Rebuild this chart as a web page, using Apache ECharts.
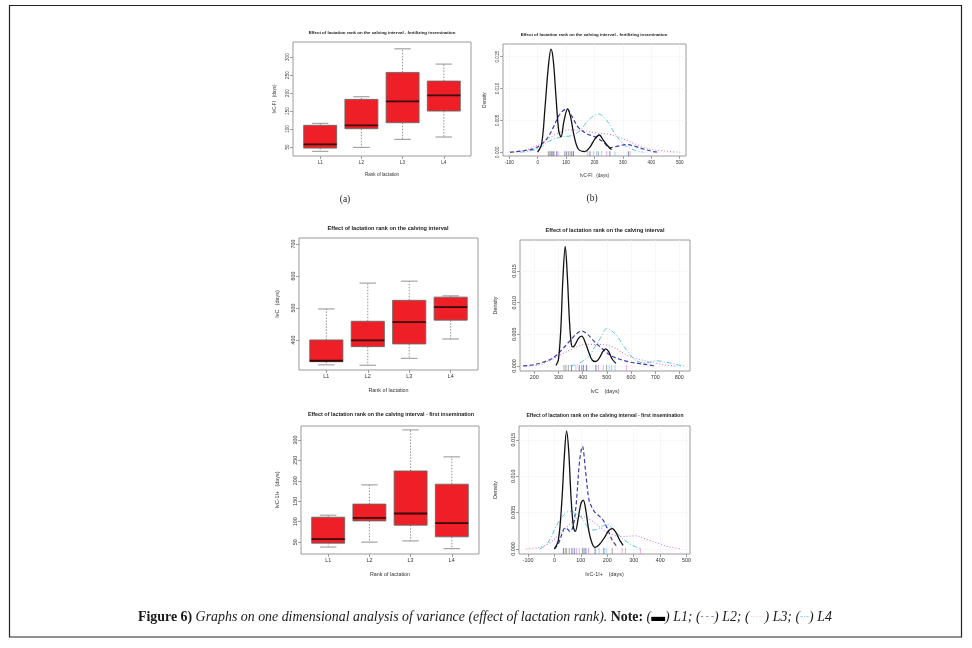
<!DOCTYPE html>
<html><head><meta charset="utf-8">
<script src="https://cdn.jsdelivr.net/npm/echarts@6/dist/echarts.min.js"></script>
<style>html,body{margin:0;padding:0;background:#fff}#c{width:972px;height:648px}</style>
</head><body><div id="c"></div>
<script>
// ---------- data ----------
const categories = ['L1', 'L2', 'L3', 'L4'];
// boxplot statistics per rank: [lower whisker, Q1, median, Q3, upper whisker]
const fiBox = [[38, 47, 57.4, 110.3, 115.8], [49, 100.9, 110.3, 182.5, 189.8], [71.3, 117.6, 176.9, 257.4, 323], [77.8, 150, 193.6, 233.3, 280.6]];
const fiOutliers = [[1, 218.6], [2, 330.5]];
const ciBox = [[322, 332, 335, 400, 497], [321, 379, 399, 458.5, 578], [342.5, 387.5, 456, 524, 584], [403, 462, 502.5, 534, 538]];
const ciOutliers = [[4, 702]];
const c1Box = [[38, 47.5, 57.3, 111, 116], [50, 102, 109.4, 143, 190], [53, 91.5, 120, 224, 324.5], [34, 63, 96.4, 191.7, 258.5]];
const c1Outliers = [[1, 220]];

// tick labels
const fiBoxTicks = [50, 100, 150, 200, 250, 300];
const ciBoxTicks = [400, 500, 600, 700];
const c1BoxTicks = [50, 100, 150, 200, 250, 300];
const fiDensXTicks = [-100, 0, 100, 200, 300, 400, 500];
const ciDensXTicks = [200, 300, 400, 500, 600, 700, 800];
const c1DensXTicks = [-100, 0, 100, 200, 300, 400, 500];
const densYTicks = [0, 0.005, 0.010, 0.015];

// density curves [days, density]  -- IvC-FI
const fiL1 = [[0,0],[14,0.0013],[26,0.0071],[37.5,0.0134],[47,0.0162],[55,0.0144],[64.5,0.0087],[74,0.0034],[82,0.0024],[93,0.005],[105.5,0.0068],[116,0.0055],[128,0.0026],[143,0.0005],[166,0.0001],[184,0.0008],[201.6,0.0021],[217,0.0027],[231,0.0019],[248.5,0.0009],[260,0.0004]];
const fiL2 = [[-97,0],[-39,0.0003],[0,0.0008],[32,0.0021],[55,0.0039],[78.5,0.006],[102,0.0068],[119.5,0.0057],[143,0.0039],[172,0.0029],[201.6,0.0024],[231,0.0016],[254,0.0007],[278,0.0009],[313,0.0012],[336,0.001],[372,0.0005],[407,0.0001],[430,0]];
const fiL3 = [[-97,0],[-39,0.0004],[20,0.0016],[67,0.0029],[114,0.0035],[160,0.0034],[207,0.003],[254,0.0028],[301,0.0021],[348,0.0012],[395,0.0005],[454,0.00015],[500,0]];
const fiL4 = [[-62,0],[0,0.0005],[43,0.0018],[84,0.0024],[119.5,0.0026],[149,0.0034],[178,0.005],[213,0.006],[243,0.005],[272,0.0029],[301,0.0013],[336,0.0004],[372,0]];
// IvC
const ciL1 = [[290,0.0001],[300,0.001],[310,0.006],[318,0.0135],[328,0.0189],[337,0.014],[345,0.0075],[352,0.0038],[358,0.003],[368,0.0033],[382,0.0043],[396,0.0047],[410,0.0038],[425,0.0022],[440,0.0009],[455,0.0007],[470,0.0013],[484,0.0023],[495,0.0027],[507,0.0023],[522,0.0011],[538,0.0004]];
const ciL2 = [[154,0],[200,0.0002],[237,0.0006],[270,0.0011],[292,0.0017],[320,0.0028],[348,0.004],[375,0.0051],[396,0.0055],[420,0.005],[440,0.0042],[458,0.0035],[485,0.0026],[513,0.0017],[550,0.0011],[596,0.0006],[630,0.0004],[665,0.0002],[700,0]];
const ciL3 = [[168,0],[223,0.0002],[260,0.0008],[292,0.0014],[320,0.002],[348,0.0025],[380,0.0031],[420,0.0034],[470,0.0034],[510,0.0032],[540,0.0027],[568,0.002],[600,0.0014],[637,0.001],[670,0.0007],[706,0.0004],[750,0.0001],[789,0]];
const ciL4 = [[348,0],[380,0.0003],[410,0.001],[430,0.0017],[450,0.003],[472,0.0043],[490,0.0056],[499,0.0059],[515,0.0057],[541,0.0048],[560,0.0037],[582,0.0025],[610,0.0012],[637,0.0006],[665,0.0005],[690,0.0007],[706,0.0008],[730,0.0007],[770,0.0004],[800,0.0001],[823,0]];
// IvC-1I
const c1L1 = [[0,0],[15,0.0012],[28,0.0065],[38,0.013],[46,0.0162],[54,0.0135],[63,0.007],[72,0.003],[79,0.0024],[90,0.0042],[100,0.0062],[109,0.0067],[118,0.0055],[130,0.0025],[142,0.0008],[154,0.0002],[170,0.0006],[190,0.0016],[205,0.0025],[219,0.0028],[232,0.0023],[247,0.0012],[260,0.0005]];
const c1L2 = [[0,0],[15,0.0007],[30,0.0022],[40,0.0029],[50,0.0027],[58,0.0024],[70,0.003],[82,0.006],[95,0.012],[106,0.0141],[117,0.011],[131,0.0067],[145,0.0055],[156,0.0049],[170,0.0045],[187,0.0038],[200,0.0028],[219,0.0012],[237,0.0003]];
const c1L3 = [[-106,0],[-60,0.0002],[-19,0.0008],[31,0.0024],[69,0.0038],[100,0.0045],[144,0.0038],[194,0.0024],[225,0.0019],[256,0.0017],[306,0.0018],[356,0.0012],[400,0.0007],[431,0.0003],[481,0]];
const c1L4 = [[-56,0],[-30,0.0006],[-12,0.0017],[5,0.003],[25,0.0042],[45,0.005],[62,0.0052],[80,0.0049],[100,0.0044],[115,0.0036],[131,0.0028],[150,0.0026],[169,0.0028],[185,0.0032],[200,0.0034],[215,0.003],[231,0.0024],[255,0.0015],[281,0.0008],[306,0.0003],[331,0]];

// rug observations (days)
const fiRug = [[37.5,41,46,49,53,102,108,114,213],[57,67,96,120,126,184,254,319],[72,176,243,325],[196,207.5,225,272]];
const ciRug = [[323,331,341,396,499],[354,386,403,416.5,455],[372,465,520,582],[485.5,510,534]];
const c1Rug = [[41,46,56,106,219],[34,66,75,112,119,154,187],[84,129,256,269,325],[94,169,196]];

// ---------- styles ----------
const FONT = '"Liberation Sans", Arial, sans-serif';
const SERIF = '"Liberation Serif", "DejaVu Serif", serif';
const groupColors = ['#111111', '#3b3bb0', '#d67fcf', '#5cc6e6'];
const groupDash = ['solid', [4, 2.5], [1, 2], [5, 2, 1, 2]];
const groupWidth = [1.3, 1.2, 1.1, 1.0];

const chart = echarts.init(document.getElementById('c'), null, { renderer: 'canvas' });

const grids = [
  { left: 293, top: 42, width: 178, height: 114 },
  { left: 503, top: 44, width: 183, height: 112 },
  { left: 299, top: 238, width: 179, height: 132 },
  { left: 520, top: 240, width: 170, height: 131 },
  { left: 301, top: 426, width: 178, height: 128 },
  { left: 519, top: 426, width: 171, height: 128 }
].map(g => Object.assign({ show: true, borderColor: '#9a9a9a', borderWidth: 1, backgroundColor: 'transparent' }, g));

function xAxisCfg(gi, min, max, ticks, fmt, name, fs, nameGap) {
  return {
    gridIndex: gi, type: 'value', min: min, max: max,
    axisLine: { show: false, onZero: false },
    axisTick: { show: true, length: 3, customValues: ticks, lineStyle: { color: '#888', width: 0.8 } },
    axisLabel: { customValues: ticks, formatter: fmt, fontSize: fs, color: '#333', margin: 4, fontFamily: FONT },
    splitLine: { show: false },
    name: name, nameLocation: 'middle', nameGap: nameGap,
    nameTextStyle: { fontSize: fs, color: '#333', fontFamily: FONT }
  };
}
function yAxisCfg(gi, min, max, ticks, fmt, name, fs, nameGap) {
  return {
    gridIndex: gi, type: 'value', min: min, max: max,
    axisLine: { show: false, onZero: false },
    axisTick: { show: true, length: 3, customValues: ticks, lineStyle: { color: '#888', width: 0.8 } },
    axisLabel: { customValues: ticks, formatter: fmt, fontSize: fs, color: '#333', margin: 3, rotate: 90, fontFamily: FONT },
    splitLine: { show: false },
    name: name, nameLocation: 'middle', nameGap: nameGap, nameRotate: 90,
    nameTextStyle: { fontSize: fs, color: '#333', fontFamily: FONT }
  };
}
const catFmt = v => categories[Math.round(v) - 1] || '';
const numFmt = v => String(v);
const densFmt = v => v.toFixed(3);

const xAxes = [
  xAxisCfg(0, 0.34, 4.66, [1, 2, 3, 4], catFmt, 'Rank of lactation', 4.6, 16),
  xAxisCfg(1, -122, 522, fiDensXTicks, numFmt, 'IvC-FI   (days)', 4.6, 17),
  xAxisCfg(2, 0.34, 4.66, [1, 2, 3, 4], catFmt, 'Rank of lactation', 5.4, 18),
  xAxisCfg(3, 141, 844, ciDensXTicks, numFmt, 'IvC    (days)', 5.4, 18),
  xAxisCfg(4, 0.34, 4.66, [1, 2, 3, 4], catFmt, 'Rank of lactation', 5.4, 18),
  xAxisCfg(5, -134, 513, c1DensXTicks, numFmt, 'IvC-1I+    (days)', 5.4, 18)
];
const yAxes = [
  yAxisCfg(0, 25, 342, fiBoxTicks, numFmt, 'IvC-FI   (days)', 4.6, 16),
  yAxisCfg(1, -0.0006, 0.017, densYTicks, densFmt, 'Density', 4.6, 16),
  yAxisCfg(2, 306, 719, ciBoxTicks, numFmt, 'IvC   (days)', 5.4, 19),
  yAxisCfg(3, -0.0008, 0.0199, densYTicks, densFmt, 'Density', 5.4, 22),
  yAxisCfg(4, 21, 334, c1BoxTicks, numFmt, 'IvC-1I+   (days)', 5.4, 21),
  yAxisCfg(5, -0.0007, 0.0169, densYTicks, densFmt, 'Density', 5.4, 21)
];
// faint grid lines on density panels
[1, 3, 5].forEach(i => {
  xAxes[i].splitLine = { show: true, lineStyle: { color: '#ececec', type: 'dotted', width: 0.8 } };
  yAxes[i].splitLine = { show: true, lineStyle: { color: '#ececec', type: 'dotted', width: 0.8 } };
});

function renderBox(params, api) {
  const x = api.value(0);
  const lo = api.coord([x, api.value(1)]);
  const q1 = api.coord([x, api.value(2)]);
  const md = api.coord([x, api.value(3)]);
  const q3 = api.coord([x, api.value(4)]);
  const hi = api.coord([x, api.value(5)]);
  const half = api.size([0.4, 0])[0];
  const cap = api.size([0.2, 0])[0];
  const wl = { stroke: '#777', lineWidth: 0.8, lineDash: [1.5, 1.5] };
  const cl = { stroke: '#777', lineWidth: 0.8 };
  return {
    type: 'group', children: [
      { type: 'line', shape: { x1: q3[0], y1: q3[1], x2: hi[0], y2: hi[1] }, style: wl },
      { type: 'line', shape: { x1: q1[0], y1: q1[1], x2: lo[0], y2: lo[1] }, style: wl },
      { type: 'line', shape: { x1: hi[0] - cap, y1: hi[1], x2: hi[0] + cap, y2: hi[1] }, style: cl },
      { type: 'line', shape: { x1: lo[0] - cap, y1: lo[1], x2: lo[0] + cap, y2: lo[1] }, style: cl },
      { type: 'rect', shape: { x: q3[0] - half, y: q3[1], width: half * 2, height: q1[1] - q3[1] }, style: { fill: '#ee1f26', stroke: '#6a6a6a', lineWidth: 0.9 } },
      { type: 'line', shape: { x1: md[0] - half, y1: md[1], x2: md[0] + half, y2: md[1] }, style: { stroke: '#3a0505', lineWidth: 1.8 } }
    ]
  };
}
function renderRug(color) {
  return function (params, api) {
    const p = api.coord([api.value(0), 0]);
    const bottom = params.coordSys.y + params.coordSys.height;
    return { type: 'line', shape: { x1: p[0], y1: p[1] - 1, x2: p[0], y2: bottom }, style: { stroke: color, lineWidth: 0.8, opacity: 0.8 } };
  };
}

const series = [];
function addBoxPanel(gi, stats, outliers) {
  series.push({
    type: 'custom', xAxisIndex: gi, yAxisIndex: gi, renderItem: renderBox,
    data: stats.map((s, i) => [i + 1].concat(s)), encode: { x: 0, y: [1, 2, 3, 4, 5] }, silent: true
  });
  series.push({
    type: 'scatter', xAxisIndex: gi, yAxisIndex: gi, data: outliers, symbol: 'emptyCircle', symbolSize: 2.6,
    itemStyle: { color: '#fff', borderColor: '#666', borderWidth: 0.6 }, silent: true
  });
}
function addDensityPanel(gi, curves, rugs) {
  curves.forEach((c, k) => {
    series.push({
      type: 'line', xAxisIndex: gi, yAxisIndex: gi, data: c, showSymbol: false, smooth: 0.35,
      lineStyle: { color: groupColors[k], width: groupWidth[k], type: groupDash[k] }, silent: true, z: 5 - k
    });
  });
  rugs.forEach((r, k) => {
    series.push({
      type: 'custom', xAxisIndex: gi, yAxisIndex: gi, renderItem: renderRug(groupColors[k] === '#111111' ? '#777' : groupColors[k]),
      data: r.map(v => [v, 0]), silent: true
    });
  });
}
addBoxPanel(0, fiBox, fiOutliers);
addDensityPanel(1, [fiL1, fiL2, fiL3, fiL4], fiRug);
addBoxPanel(2, ciBox, ciOutliers);
addDensityPanel(3, [ciL1, ciL2, ciL3, ciL4], ciRug);
addBoxPanel(4, c1Box, c1Outliers);
addDensityPanel(5, [c1L1, c1L2, c1L3, c1L4], c1Rug);

function txt(x, y, text, size, weight, family, align) {
  return {
    type: 'text', x: x, y: y, silent: true,
    style: { text: text, fontSize: size, fontWeight: weight || 'normal', fontFamily: family || FONT, fill: '#1a1a1a',
      align: align || 'center', verticalAlign: 'middle', textAlign: align || 'center', textVerticalAlign: 'middle' }
  };
}
const CAP = 13.9;
const graphics = [
  { type: 'rect', silent: true, shape: { x: 9.5, y: 5.5, width: 952, height: 631.5 }, style: { fill: 'none', stroke: '#222', lineWidth: 1.2 } },
  txt(382, 33, 'Effect of lactation rank on the calving interval - fertilizing insemination', 4.4, 'bold'),
  txt(594, 35, 'Effect of lactation rank on the calving interval - fertilizing insemination', 4.4, 'bold'),
  txt(388, 228, 'Effect of lactation rank on the calving interval', 5.6, 'bold'),
  txt(605, 230, 'Effect of lactation rank on the calving interval', 5.5, 'bold'),
  txt(391, 415, 'Effect of lactation rank on the calving interval - first insemination', 5.4, 'bold'),
  txt(605, 415.5, 'Effect of lactation rank on the calving interval - first insemination', 5.1, 'bold'),
  txt(345, 199, '(a)', 9.5, 'normal', SERIF),
  txt(592, 198, '(b)', 9.5, 'normal', SERIF),
  {
    type: 'text', x: 138, y: 617, silent: true,
    style: {
      text: '{b|Figure 6)} {i|Graphs on one dimensional analysis of variance (effect of lactation rank). }{b|Note:} {i|(}{k1|▬}{i|) L1; (}{k2|- - -}{i|) L2; (}{k3|·····}{i|) L3; (}{k4|-·-}{i|) L4}',
      align: 'left', verticalAlign: 'middle', textAlign: 'left', textVerticalAlign: 'middle',
      fontSize: CAP, fontFamily: SERIF, fill: '#1a1a1a',
      rich: {
        b: { fontSize: CAP, fontFamily: SERIF, fontWeight: 'bold', fill: '#1a1a1a' },
        i: { fontSize: CAP, fontFamily: SERIF, fontStyle: 'italic', fill: '#1a1a1a' },
        k1: { fontSize: CAP, fontFamily: SERIF, fill: '#000', fontWeight: 'bold' },
        k2: { fontSize: 9, fontFamily: SERIF, fill: '#5a5acc', fontWeight: 'bold' },
        k3: { fontSize: 9, fontFamily: SERIF, fill: '#e3a6de' },
        k4: { fontSize: 9, fontFamily: SERIF, fill: '#5cc6e6' }
      }
    }
  }
];

chart.setOption({
  backgroundColor: '#ffffff',
  animation: false,
  grid: grids,
  xAxis: xAxes,
  yAxis: yAxes,
  series: series,
  graphic: graphics
});
</script>
</body></html>
